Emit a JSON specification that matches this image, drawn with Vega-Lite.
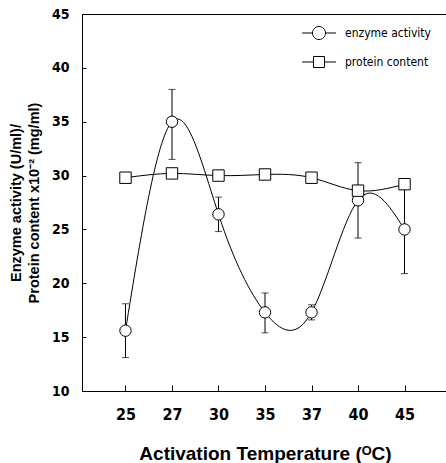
{
  "$schema": "https://vega.github.io/schema/vega-lite/v6.json",
  "width": 366,
  "height": 377,
  "autosize": {"type": "none"},
  "padding": {"left": 82, "top": 14, "right": 0, "bottom": 72},
  "background": "white",
  "config": {
    "view": {"stroke": "black", "strokeWidth": 1},
    "axis": {"domainColor": "black", "tickColor": "black", "labelColor": "black", "titleColor": "black", "grid": false}
  },
  "data": {
    "values": [
      {"temp": 25, "series": "enzyme activity", "value": 15.6, "lo": 13.1, "hi": 18.1},
      {"temp": 27, "series": "enzyme activity", "value": 35.0, "lo": 31.5, "hi": 38.0},
      {"temp": 30, "series": "enzyme activity", "value": 26.4, "lo": 24.8, "hi": 28.0},
      {"temp": 35, "series": "enzyme activity", "value": 17.3, "lo": 15.4, "hi": 19.1},
      {"temp": 37, "series": "enzyme activity", "value": 17.3, "lo": 16.6, "hi": 18.0},
      {"temp": 40, "series": "enzyme activity", "value": 27.7, "lo": 24.2, "hi": 31.2},
      {"temp": 45, "series": "enzyme activity", "value": 25.0, "lo": 20.9, "hi": 29.1},
      {"temp": 25, "series": "protein content", "value": 29.8},
      {"temp": 27, "series": "protein content", "value": 30.2},
      {"temp": 30, "series": "protein content", "value": 30.0},
      {"temp": 35, "series": "protein content", "value": 30.1},
      {"temp": 37, "series": "protein content", "value": 29.8},
      {"temp": 40, "series": "protein content", "value": 28.6},
      {"temp": 45, "series": "protein content", "value": 29.2}
    ]
  },
  "encoding": {
    "x": {
      "field": "temp",
      "type": "ordinal",
      "scale": {"type": "point", "padding": 0.935},
      "axis": {
        "labelAngle": 0,
        "labelFont": "'Liberation Sans Narrow', 'DejaVu Sans Condensed', sans-serif",
        "labelFontWeight": "bold",
        "labelFontSize": 16,
        "tickSize": -6,
        "labelPadding": 21,
        "title": "Activation Temperature (ᴼC)",
        "titleFont": "Liberation Sans",
        "titleFontSize": 19,
        "titleFontWeight": "bold",
        "titlePadding": 22
      }
    }
  },
  "layer": [
    {
      "transform": [{"filter": "datum.lo != null"}],
      "mark": {"type": "rule", "color": "black", "strokeWidth": 1},
      "encoding": {
        "y": {"field": "lo", "type": "quantitative", "scale": {"domain": [10, 45], "nice": false},
          "axis": {"values": [10, 15, 20, 25, 30, 35, 40, 45], "labelFont": "'Liberation Sans Narrow', 'DejaVu Sans Condensed', sans-serif", "labelFontWeight": "bold", "labelFontSize": 14, "tickSize": -4, "labelPadding": 17, "titleFont": "Liberation Sans", "titleFontSize": 14.5, "titleFontWeight": "bold", "titleLineHeight": 18, "titlePadding": 10},
          "title": ["Enzyme activity (U/ml)/", "Protein content x10⁻² (mg/ml)"]},
        "y2": {"field": "hi"}
      }
    },
    {
      "transform": [{"filter": "datum.lo != null"}],
      "mark": {"type": "tick", "color": "black", "size": 7, "thickness": 1},
      "encoding": {
        "y": {"field": "lo", "type": "quantitative", "title": ["Enzyme activity (U/ml)/", "Protein content x10⁻² (mg/ml)"]}
      }
    },
    {
      "transform": [{"filter": "datum.hi != null"}],
      "mark": {"type": "tick", "color": "black", "size": 7, "thickness": 1},
      "encoding": {
        "y": {"field": "hi", "type": "quantitative", "title": ["Enzyme activity (U/ml)/", "Protein content x10⁻² (mg/ml)"]}
      }
    },
    {
      "transform": [{"filter": "false"}],
      "mark": {"type": "point", "filled": false, "color": "black", "strokeWidth": 1, "size": 169, "opacity": 1},
      "encoding": {
        "y": {"field": "value", "type": "quantitative", "title": ["Enzyme activity (U/ml)/", "Protein content x10⁻² (mg/ml)"]},
        "shape": {
          "field": "series",
          "type": "nominal",
          "scale": {"domain": ["enzyme activity", "protein content"], "range": ["M-2.6,0H-1M1,0H2.6M-1,0A1,1,0,1,1,1,0A1,1,0,1,1,-1,0Z", "M-2.6,0H-0.85M0.85,0H2.6M-0.85,-0.85H0.85V0.85H-0.85Z"]},
          "legend": {
            "orient": "none",
            "legendX": 230,
            "legendY": 12,
            "title": null,
            "padding": 0,
            "labelFont": "'Liberation Sans Narrow', 'DejaVu Sans Condensed', sans-serif",
            "labelFontSize": 12,
            "labelColor": "black",
            "symbolSize": 169,
            "symbolStrokeColor": "black",
            "symbolStrokeWidth": 1,
            "symbolOpacity": 1,
            "rowPadding": 12,
            "labelOffset": 19
          }
        }
      }
    },
    {
      "mark": {"type": "line", "color": "black", "strokeWidth": 1, "interpolate": "natural"},
      "encoding": {
        "y": {"field": "value", "type": "quantitative", "title": ["Enzyme activity (U/ml)/", "Protein content x10⁻² (mg/ml)"]},
        "detail": {"field": "series"}
      }
    },
    {
      "mark": {"type": "point", "filled": true, "fill": "white", "stroke": "black", "strokeWidth": 1, "size": 130, "opacity": 1},
      "encoding": {
        "y": {"field": "value", "type": "quantitative", "title": ["Enzyme activity (U/ml)/", "Protein content x10⁻² (mg/ml)"]},
        "shape": {"field": "series", "type": "nominal", "scale": {"domain": ["enzyme activity", "protein content"], "range": ["circle", "square"]}, "legend": null}
      }
    }
  ],
  "resolve": {"scale": {"shape": "independent"}, "legend": {"shape": "independent"}}
}
